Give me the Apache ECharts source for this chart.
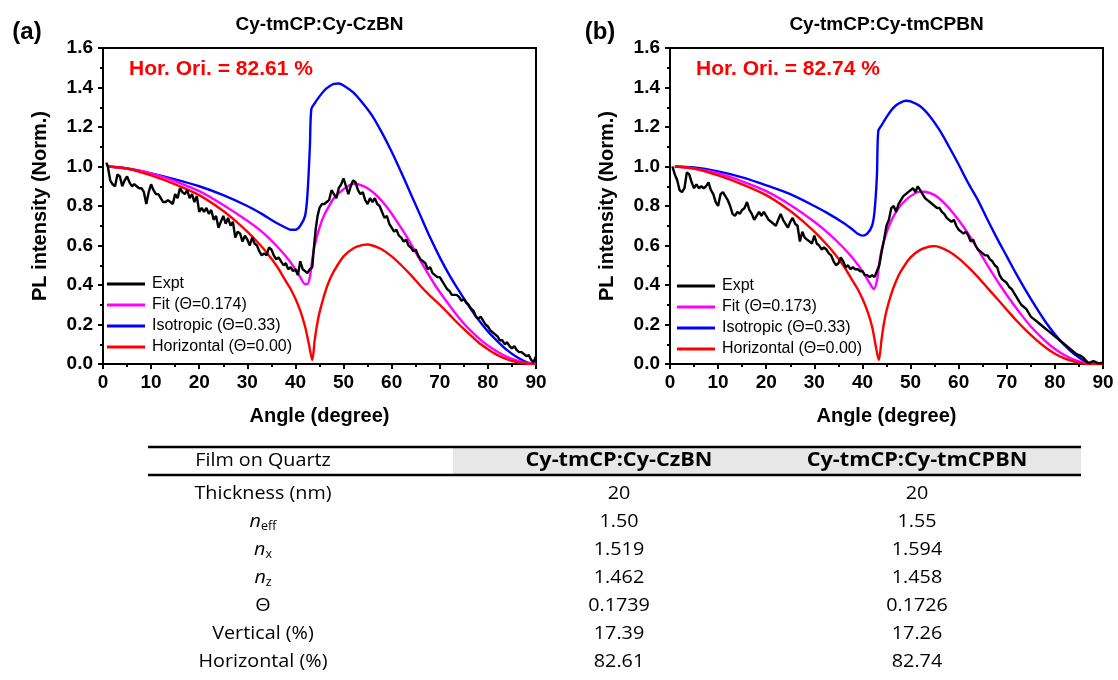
<!DOCTYPE html>
<html>
<head>
<meta charset="utf-8">
<script src="https://cdn.jsdelivr.net/npm/echarts@6/dist/echarts.min.js"></script>
<style>
  html, body { margin: 0; padding: 0; background: #fff; }
  #chart { width: 1118px; height: 680px; }
</style>
</head>
<body>
<div id="chart"></div>
<script>
// ---- Panel (a): Cy-tmCP:Cy-CzBN ----
const isoAngA = [1,5,10,15,20,25,30,33,36,38,39,40,41,42,42.5,43,43.3,44,45,46,47,48,49,50,52,54,56,58,60,62,64,66,68,70,72,74,76,78,80,82,84,86,88,90];
const isoValA = [1.0,0.99,0.965,0.935,0.90,0.855,0.80,0.76,0.715,0.69,0.68,0.68,0.70,0.75,0.86,1.10,1.29,1.32,1.355,1.385,1.405,1.418,1.42,1.41,1.375,1.32,1.255,1.17,1.075,0.97,0.86,0.75,0.64,0.54,0.45,0.37,0.295,0.225,0.165,0.115,0.07,0.035,0.01,0.0];
const horAngA = [1,5,10,15,20,25,28,30,32,34,36,38,39,40,41,42,42.8,43.5,44,44.5,45,46,47,48,50,52,54,55,56,58,60,62,64,66,68,70,72,74,76,78,80,82,84,86,88,90];
const horValA = [1.0,0.99,0.955,0.91,0.855,0.775,0.715,0.67,0.62,0.565,0.50,0.42,0.38,0.33,0.27,0.19,0.10,0.02,0.12,0.20,0.26,0.35,0.42,0.47,0.545,0.585,0.603,0.605,0.60,0.58,0.545,0.50,0.45,0.395,0.345,0.30,0.25,0.20,0.155,0.11,0.075,0.045,0.024,0.01,0.002,0.0];
const fitAngA = [1,5,10,15,20,25,30,33,36,38,40,41,42,42.5,43,43.5,44,45,46,47,48,50,52,53,55,57,59,61,63,65,67,69,71,73,75,77,79,81,83,85,87,89,90];
const fitValA = [1.0,0.99,0.965,0.925,0.875,0.805,0.725,0.67,0.60,0.545,0.48,0.44,0.405,0.405,0.44,0.53,0.60,0.69,0.755,0.80,0.84,0.885,0.912,0.91,0.89,0.85,0.795,0.725,0.65,0.565,0.48,0.40,0.33,0.265,0.205,0.155,0.112,0.077,0.048,0.026,0.01,0.002,0.0];
const expAngA = [0.7,1,1.5,2,2.5,3,3.5,4,4.5,5,5.5,6,6.5,7,7.5,8,8.5,9,9.5,10,10.5,11,11.5,12,12.5,13,13.5,14,14.5,15,15.5,16,16.5,17,17.5,18,18.5,19,19.5,20,20.5,21,21.5,22,22.5,23,23.5,24,24.5,25,25.5,26,26.5,27,27.5,28,28.5,29,29.5,30,30.5,31,31.5,32,32.5,33,33.5,34,34.5,35,35.5,36,36.5,37,37.5,38,38.5,39,39.5,40,40.5,41,41.5,42,42.5,43,43.5,43.8,44.2,44.6,45,45.5,46,46.5,47,47.5,48,48.5,49,49.5,50,50.5,51,51.5,52,52.5,53,53.5,54,54.5,55,55.5,56,56.5,57,57.5,58,58.5,59,59.5,60,60.5,61,61.5,62,62.5,63,63.5,64,64.5,65,65.5,66,66.5,67,67.5,68,68.5,69,69.5,70,70.5,71,71.5,72,72.5,73,73.5,74,74.5,75,75.5,76,76.5,77,77.5,78,78.5,79,79.5,80,80.5,81,81.5,82,82.5,83,83.5,84,84.5,85,85.5,86,86.5,87,87.5,88,88.5,89,89.5,90];
const expValA = [1.02,1.0,0.93,0.91,0.90,0.96,0.95,0.90,0.93,0.95,0.92,0.90,0.91,0.90,0.89,0.89,0.87,0.81,0.87,0.91,0.88,0.86,0.86,0.84,0.82,0.82,0.83,0.82,0.81,0.86,0.84,0.89,0.87,0.86,0.88,0.84,0.86,0.82,0.85,0.77,0.79,0.77,0.79,0.76,0.78,0.73,0.75,0.69,0.72,0.75,0.71,0.74,0.70,0.72,0.64,0.67,0.66,0.62,0.65,0.63,0.60,0.64,0.61,0.60,0.57,0.55,0.56,0.55,0.59,0.58,0.55,0.53,0.54,0.52,0.50,0.51,0.48,0.49,0.47,0.48,0.45,0.52,0.48,0.47,0.46,0.48,0.49,0.58,0.68,0.75,0.79,0.81,0.81,0.82,0.83,0.88,0.86,0.84,0.89,0.91,0.94,0.90,0.86,0.90,0.93,0.92,0.88,0.86,0.87,0.83,0.81,0.84,0.82,0.84,0.81,0.80,0.77,0.74,0.75,0.71,0.69,0.67,0.68,0.65,0.64,0.62,0.63,0.60,0.59,0.57,0.58,0.55,0.53,0.52,0.51,0.48,0.49,0.46,0.45,0.44,0.44,0.42,0.40,0.38,0.37,0.35,0.35,0.35,0.34,0.32,0.33,0.31,0.30,0.28,0.27,0.24,0.23,0.24,0.22,0.20,0.19,0.17,0.16,0.15,0.14,0.12,0.12,0.10,0.11,0.09,0.08,0.09,0.07,0.06,0.06,0.05,0.04,0.045,0.02,0.01,0.04];

// ---- Panel (b): Cy-tmCP:Cy-tmCPBN ----
const isoAngB = [1,5,10,15,20,25,30,33,36,38,39,40,41,42,42.5,43,43.3,44,45,46,47,48,49,50,52,54,56,58,60,62,64,66,68,70,72,74,76,78,80,82,84,86,87,90];
const isoValB = [1.0,0.995,0.975,0.945,0.905,0.86,0.80,0.76,0.715,0.68,0.66,0.65,0.66,0.70,0.77,0.95,1.18,1.21,1.25,1.285,1.31,1.325,1.333,1.33,1.305,1.255,1.185,1.10,1.01,0.915,0.83,0.73,0.635,0.545,0.455,0.37,0.29,0.215,0.15,0.095,0.05,0.017,0.003,0.0];
const horAngB = [1,5,10,15,20,25,28,30,32,34,36,38,39,40,41,42,42.7,43.4,44,44.5,45,46,47,48,50,52,54,55,56,58,60,62,64,66,68,70,72,74,76,78,80,82,84,86,87,90];
const horValB = [1.0,0.99,0.955,0.91,0.855,0.775,0.715,0.67,0.62,0.565,0.50,0.42,0.38,0.33,0.27,0.19,0.10,0.02,0.13,0.21,0.27,0.355,0.42,0.47,0.54,0.578,0.595,0.597,0.592,0.57,0.535,0.49,0.44,0.385,0.33,0.275,0.22,0.17,0.125,0.085,0.052,0.028,0.012,0.002,0.0,0.0];
const fitAngB = [1,5,10,15,20,25,30,33,36,38,40,41,42,42.4,43,43.5,44,45,46,47,48,50,52,53,55,57,59,61,63,65,67,69,71,73,75,77,79,81,83,85,86.5,87,90];
const fitValB = [1.0,0.99,0.965,0.925,0.875,0.805,0.72,0.66,0.59,0.535,0.47,0.43,0.39,0.38,0.42,0.51,0.58,0.665,0.725,0.77,0.805,0.85,0.873,0.872,0.855,0.815,0.76,0.695,0.62,0.54,0.46,0.385,0.315,0.25,0.19,0.14,0.095,0.06,0.033,0.013,0.002,0.0,0.0];
const expAngB = [0.5,1,1.5,2,2.5,3,3.5,4,4.5,5,5.5,6,6.5,7,7.5,8,8.5,9,9.5,10,10.5,11,11.5,12,12.5,13,13.5,14,14.5,15,15.5,16,16.5,17,17.5,18,18.5,19,19.5,20,20.5,21,21.5,22,22.5,23,23.5,24,24.5,25,25.5,26,26.5,27,27.5,28,28.5,29,29.5,30,30.5,31,31.5,32,32.5,33,33.5,34,34.5,35,35.5,36,36.5,37,37.5,38,38.5,39,39.5,40,40.5,41,41.5,42,42.5,43,43.5,44,44.5,45,45.5,46,46.5,47,47.5,48,48.5,49,49.5,50,50.5,51,51.5,52,52.5,53,53.5,54,54.5,55,55.5,56,56.5,57,57.5,58,58.5,59,59.5,60,60.5,61,61.5,62,62.5,63,63.5,64,64.5,65,65.5,66,66.5,67,67.5,68,68.5,69,69.5,70,70.5,71,71.5,72,72.5,73,73.5,74,74.5,75,75.5,76,76.5,77,77.5,78,78.5,79,79.5,80,80.5,81,81.5,82,82.5,83,83.5,84,84.5,85,85.5,86,86.5,87,87.5,88,88.5,89,89.5,90];
const expValB = [1.0,0.96,0.93,0.88,0.87,0.89,0.97,0.96,0.92,0.89,0.91,0.89,0.90,0.89,0.90,0.92,0.88,0.86,0.82,0.80,0.86,0.87,0.85,0.83,0.80,0.76,0.75,0.77,0.76,0.78,0.79,0.82,0.78,0.76,0.73,0.75,0.77,0.75,0.77,0.75,0.73,0.72,0.71,0.70,0.73,0.76,0.73,0.71,0.69,0.72,0.74,0.71,0.70,0.62,0.67,0.64,0.63,0.62,0.61,0.65,0.61,0.60,0.58,0.59,0.58,0.56,0.55,0.52,0.50,0.51,0.54,0.52,0.49,0.50,0.48,0.49,0.48,0.48,0.47,0.47,0.45,0.45,0.44,0.45,0.44,0.47,0.50,0.57,0.63,0.70,0.73,0.79,0.80,0.77,0.81,0.83,0.85,0.86,0.87,0.88,0.89,0.87,0.90,0.88,0.86,0.84,0.83,0.82,0.81,0.80,0.79,0.79,0.77,0.76,0.74,0.73,0.72,0.73,0.70,0.68,0.67,0.66,0.67,0.65,0.62,0.63,0.60,0.58,0.57,0.56,0.55,0.55,0.53,0.52,0.50,0.49,0.45,0.43,0.42,0.41,0.39,0.38,0.36,0.34,0.32,0.30,0.29,0.28,0.26,0.24,0.23,0.22,0.21,0.20,0.19,0.18,0.17,0.16,0.15,0.14,0.13,0.12,0.11,0.10,0.09,0.08,0.07,0.06,0.05,0.045,0.04,0.03,0.015,0.005,0.01,0.015,0.01,0.003,0.005,0.005];

// ---- Panel titles and annotations ----
const panelTitles = ['Cy-tmCP:Cy-CzBN', 'Cy-tmCP:Cy-tmCPBN'];
const panelTags = ['(a)', '(b)'];
const horOri = [82.61, 82.74];
const fitTheta = ['0.174', '0.173'];

// ---- Axis ticks ----
const xTicks = { min: 0, max: 90, interval: 10 };
const yTicks = { min: 0, max: 1.6, interval: 0.2 };

// ---- Summary table ----
const tableHeader = ['Film on Quartz', 'Cy-tmCP:Cy-CzBN', 'Cy-tmCP:Cy-tmCPBN'];
const tableRowNames = ['Thickness (nm)', '{i|n}{s|eff}', '{i|n}{s|x}', '{i|n}{s|z}', 'Θ', 'Vertical (%)', 'Horizontal (%)'];
const tableColA = ['20', '1.50', '1.519', '1.462', '0.1739', '17.39', '82.61'];
const tableColB = ['20', '1.55', '1.594', '1.458', '0.1726', '17.26', '82.74'];

const zip = (xs, ys) => xs.map((x, i) => [x, ys[i]]);

const FONT = 'Liberation Sans, Arial, sans-serif';
const TFONT = 'Open Sans, Noto Sans, sans-serif';

const grids = [
  { left: 103, top: 48, width: 433, height: 316 },
  { left: 670, top: 48, width: 433, height: 316 }
];

function makeX(i) {
  return {
    type: 'value', gridIndex: i, min: xTicks.min, max: xTicks.max, interval: xTicks.interval,
    name: 'Angle (degree)', nameLocation: 'middle', nameGap: 42,
    nameTextStyle: { fontFamily: FONT, fontWeight: 'bold', fontSize: 20, color: '#000' },
    axisLine: { show: true, onZero: false, lineStyle: { color: '#000', width: 2 } },
    axisTick: { show: true, inside: false, length: 5, lineStyle: { color: '#000', width: 2 } },
    minorTick: { show: true, splitNumber: 2, length: 3, lineStyle: { color: '#000', width: 2 } },
    axisLabel: { fontFamily: FONT, fontWeight: 'bold', fontSize: 19, color: '#000', margin: 9 },
    splitLine: { show: false }
  };
}
function makeY(i) {
  return {
    type: 'value', gridIndex: i, min: yTicks.min, max: yTicks.max, interval: yTicks.interval,
    name: 'PL intensity (Norm.)', nameLocation: 'middle', nameGap: 53, nameRotate: 90,
    nameTextStyle: { fontFamily: FONT, fontWeight: 'bold', fontSize: 20, color: '#000' },
    axisLine: { show: true, onZero: false, lineStyle: { color: '#000', width: 2 } },
    axisTick: { show: true, inside: false, length: 5, lineStyle: { color: '#000', width: 2 } },
    minorTick: { show: true, splitNumber: 2, length: 3, lineStyle: { color: '#000', width: 2 } },
    axisLabel: { fontFamily: FONT, fontWeight: 'bold', fontSize: 19, color: '#000', margin: 10,
      formatter: v => v.toFixed(1) },
    splitLine: { show: false }
  };
}

function line(name, i, xs, ys, color, z) {
  return {
    type: 'line', name, xAxisIndex: i, yAxisIndex: i, data: zip(xs, ys),
    symbol: 'none', smooth: 0.3, z,
    lineStyle: { color, width: 2.4 }, itemStyle: { color },
    emphasis: { disabled: true }
  };
}

const isoName = 'Isotropic (Θ=0.33)';
const horName = 'Horizontal (Θ=0.00)';
const fitNames = fitTheta.map(t => 'Fit (Θ=' + t + ')');

const series = [
  line(isoName, 0, isoAngA, isoValA, '#0000FF', 2),
  line(fitNames[0], 0, fitAngA, fitValA, '#FF00FF', 3),
  line(horName, 0, horAngA, horValA, '#FF0000', 4),
  Object.assign(line('Expt', 0, expAngA, expValA, '#000000', 5), { smooth: false }),
  line(isoName, 1, isoAngB, isoValB, '#0000FF', 2),
  line(fitNames[1], 1, fitAngB, fitValB, '#FF00FF', 3),
  line(horName, 1, horAngB, horValB, '#FF0000', 4),
  Object.assign(line('Expt', 1, expAngB, expValB, '#000000', 5), { smooth: false })
];

// Legend keys are plain 3px strokes
function makeLegend(i, left, top) {
  return {
    orient: 'vertical', left, top, padding: 0, itemGap: 5,
    icon: 'rect', itemWidth: 38, itemHeight: 3, selectedMode: false,
    data: ['Expt', fitNames[i], isoName, horName],
    textStyle: { fontFamily: FONT, fontSize: 16, lineHeight: 16, color: '#000', padding: [0, 0, 0, 2] }
  };
}

// Panel titles, tags and orientation notes
const graphic = [];
grids.forEach((g, i) => {
  graphic.push({ type: 'text', x: g.left + g.width / 2, y: 25,
    style: { text: panelTitles[i], font: 'bold 19px ' + FONT, fill: '#000', textAlign: 'center', textVerticalAlign: 'middle' } });
  graphic.push({ type: 'text', x: i === 0 ? 27 : 600, y: 32,
    style: { text: panelTags[i], font: 'bold 24px ' + FONT, fill: '#000', textAlign: 'center', textVerticalAlign: 'middle' } });
  graphic.push({ type: 'text', x: g.left + 26, y: 69,
    style: { text: 'Hor. Ori. = ' + horOri[i].toFixed(2) + ' %', font: 'bold 21px ' + FONT, fill: '#FF0000', textAlign: 'left', textVerticalAlign: 'middle' } });
});

// Summary table
const tLeft = 148, tRight = 1081, hdrSplit = 453;
const colX = [263, 619, 917];
const hdrTop = 447, hdrBottom = 475, rowY0 = 494, rowH = 27.9;
const regScale = 1.04, boldScale = 1.14;
graphic.push({ type: 'rect', shape: { x: hdrSplit, y: hdrTop, width: tRight - hdrSplit, height: hdrBottom - hdrTop },
  style: { fill: '#E7E7E7' } });
graphic.push({ type: 'line', shape: { x1: tLeft, y1: hdrTop, x2: tRight, y2: hdrTop }, style: { stroke: '#000', lineWidth: 2.5 } });
graphic.push({ type: 'line', shape: { x1: tLeft, y1: hdrBottom, x2: tRight, y2: hdrBottom }, style: { stroke: '#000', lineWidth: 2.5 } });
tableHeader.forEach((h, c) => {
  graphic.push({ type: 'text', x: colX[c], y: (hdrTop + hdrBottom) / 2, scaleX: c === 0 ? regScale : boldScale,
    style: { text: h, font: (c === 0 ? '' : 'bold ') + '19px ' + TFONT, fill: '#000', textAlign: 'center', textVerticalAlign: 'middle' } });
});
const rich = {
  i: { fontFamily: TFONT, fontStyle: 'italic', fontSize: 19, color: '#000' },
  s: { fontFamily: TFONT, fontSize: 12, color: '#000', padding: [9, 0, 0, 0] }
};
tableRowNames.forEach((n, r) => {
  const y = rowY0 + r * rowH;
  graphic.push({ type: 'text', x: colX[0], y, scaleX: regScale,
    style: { text: n, rich, font: '19px ' + TFONT, fill: '#000', textAlign: 'center', textVerticalAlign: 'middle' } });
  graphic.push({ type: 'text', x: colX[1], y, scaleX: regScale,
    style: { text: tableColA[r], font: '19px ' + TFONT, fill: '#000', textAlign: 'center', textVerticalAlign: 'middle' } });
  graphic.push({ type: 'text', x: colX[2], y, scaleX: regScale,
    style: { text: tableColB[r], font: '19px ' + TFONT, fill: '#000', textAlign: 'center', textVerticalAlign: 'middle' } });
});

const chart = echarts.init(document.getElementById('chart'), null, { renderer: 'canvas' });
chart.setOption({
  animation: false,
  backgroundColor: '#fff',
  grid: grids.map(g => Object.assign({ show: true, borderColor: '#000', borderWidth: 2, backgroundColor: 'transparent' }, g)),
  xAxis: [makeX(0), makeX(1)],
  yAxis: [makeY(0), makeY(1)],
  legend: [makeLegend(0, 107, 276), makeLegend(1, 677, 278)],
  series,
  graphic
});
</script>
</body>
</html>
